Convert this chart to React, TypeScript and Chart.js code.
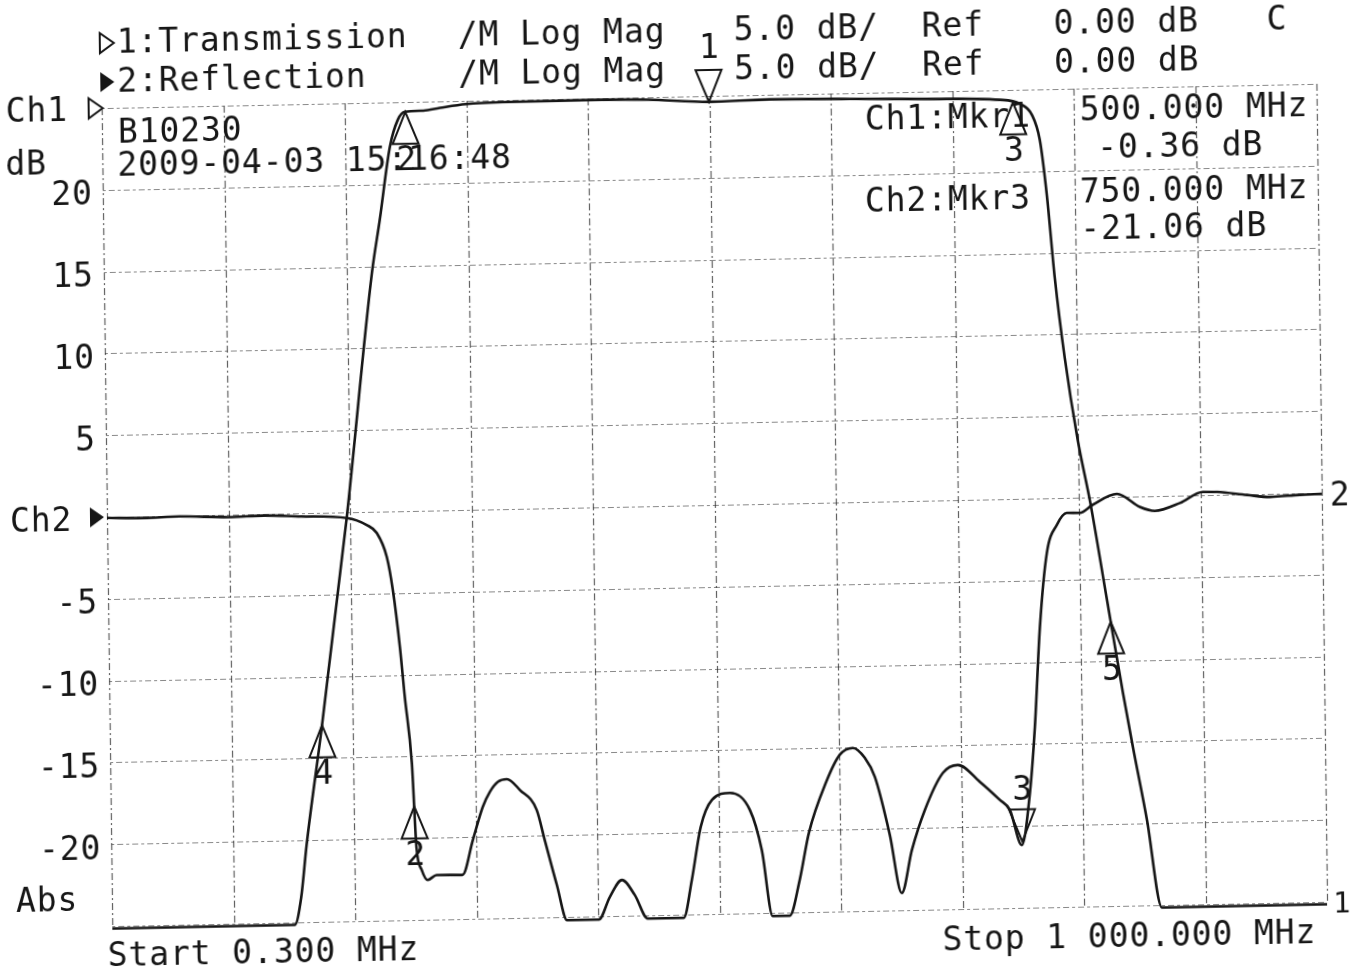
import React, { useEffect, useRef } from 'react';
import { Chart, registerables } from 'chart.js';
Chart.register(...registerables);

// ---- axis setup (from the printout) ----
const START_MHZ = 0.3;
const STOP_MHZ = 1000;
const CH2_MIN = -25;
const CH2_MAX = 25;
const CH1_MIN = -50;
const CH1_MAX = 0;
const Y_LABEL_VALUES = [20, 15, 10, 5, -5, -10, -15, -20];
const Y_LABEL_TEXT = ['20', '15', '10', '5', '-5', '-10', '-15', '-20'];

// ---- Ch1: Transmission (dB, ref 0 dB at top, 5 dB/div) ----
const ch1Freq = [0.3, 150.5, 156, 161, 174.8, 197.6, 220.9, 227.9, 237, 243.8, 249.7, 265, 278.6, 300, 330, 410, 450, 500, 550, 616, 680, 739.4, 755.8, 765.6, 771.8, 777, 782.6, 790, 799.8, 809.5, 822.2, 834.3, 841.9, 852.7, 864.1, 1000];
const ch1Db = [-50.15, -50.15, -48.5, -45.3, -38.1, -25.3, -10.4, -7.17, -2.72, -1.08, -0.6, -0.55, -0.4, -0.2, -0.12, -0.1, -0.15, -0.36, -0.28, -0.35, -0.45, -0.59, -0.86, -1.55, -3.09, -6.46, -11.48, -16.44, -21.47, -25.33, -31.3, -36.98, -40.3, -44.77, -50.15, -50.15];

// ---- Ch2: Reflection (dB, ref 0 dB at centre, 5 dB/div) ----
const ch2Freq = [0.3, 30, 60, 100, 130, 160, 197.6, 213.9, 222.1, 230.1, 234.7, 239.9, 243.4, 248.5, 251.4, 255.5, 260.3, 267.6, 289, 297.9, 306.4, 312.4, 319.1, 326.5, 337.1, 350.7, 357, 366.5, 374.6, 400.7, 410, 420.1, 430.5, 441, 470.6, 477.6, 485.5, 495, 509.9, 526.1, 535.5, 543.8, 557.8, 566.4, 574.4, 588.9, 600.6, 611.5, 621.2, 629.3, 641, 650.2, 659, 670.1, 685.3, 697.7, 715.7, 731.9, 740, 749.5, 756.7, 761.5, 766.7, 773.2, 781.7, 790, 800.7, 811.3, 831.4, 850.2, 862.5, 883.2, 902.1, 913.8, 938.4, 957.3, 981.9, 1000];
const ch2Db = [-0.05, -0.1, -0.05, -0.15, -0.1, -0.2, -0.35, -0.8, -1.3, -2.78, -4.8, -8.29, -11.35, -15.4, -20.54, -21.95, -22.57, -22.28, -22.3, -20.18, -18.17, -17.26, -16.66, -16.5, -17.18, -18.42, -20.27, -23.03, -25.2, -25.2, -23.83, -22.81, -23.74, -25.2, -25.2, -22.9, -19.66, -18.03, -17.62, -18.68, -21.15, -25.2, -25.2, -23.02, -20.16, -17.12, -15.43, -15.02, -15.64, -16.82, -20.38, -23.95, -21.33, -18.9, -16.66, -16.19, -17.25, -18.38, -19, -21.16, -17.99, -13.96, -7.85, -3.34, -1.64, -0.92, -0.93, -0.46, 0.18, -0.64, -0.9, -0.45, 0.2, 0.18, -0.04, -0.19, -0.1, -0.07];

// ---- markers ----
const ch1MarkerFreq = [500, 250, 750, 175, 825];
const ch1MarkerLabel = ['1', '2', '3', '4', '5'];
const ch1MarkerDown = [true, false, false, false, false];
const ch2MarkerFreq = [250, 750];
const ch2MarkerLabel = ['2', '3'];
const ch2MarkerDown = [false, true];

// ---- annotation texts ----
const headerRow1 = ['1:Transmission', '/M Log Mag', '5.0 dB/', 'Ref', '0.00 dB', 'C'];
const headerRow2 = ['2:Reflection', '/M Log Mag', '5.0 dB/', 'Ref', '0.00 dB'];
const headerCols = [123, 464, 740, 928, 1060, 1273];
const infoLines = ['B10230', '2009-04-03 15:16:48'];
const readoutLeft = ['Ch1:Mkr1', 'Ch2:Mkr3'];
const readoutRight = ['500.000 MHz', '-0.36 dB', '750.000 MHz', '-21.06 dB'];
const startText = 'Start 0.300 MHz';
const stopText = 'Stop 1 000.000 MHz';

const FONT = '"DejaVu Sans Mono", "Liberation Mono", monospace';
const INK = '#161616';

function interp(fs: number[], vs: number[], f: number) {
  for (let i = 0; i < fs.length - 1; i++) {
    if (f >= fs[i] && f <= fs[i + 1]) {
      const t = (f - fs[i]) / (fs[i + 1] - fs[i]);
      return vs[i] + t * (vs[i + 1] - vs[i]);
    }
  }
  return vs[vs.length - 1];
}

function txt(ctx: CanvasRenderingContext2D, s: string, x: number, y: number, align: CanvasTextAlign = 'left', size = 33) {
  ctx.font = `${size}px ${FONT}`;
  (ctx as any).letterSpacing = '0.9px';
  ctx.textAlign = align;
  ctx.textBaseline = 'middle';
  ctx.fillStyle = INK;
  ctx.fillText(s, x, y);
}

function tri(ctx: CanvasRenderingContext2D, x: number, y: number, down: boolean) {
  const w = 13, h = 32;
  ctx.beginPath();
  ctx.moveTo(x, y);
  if (down) {
    ctx.lineTo(x - w, y - h);
    ctx.lineTo(x + w, y - h);
  } else {
    ctx.lineTo(x - w, y + h);
    ctx.lineTo(x + w, y + h);
  }
  ctx.closePath();
  ctx.stroke();
}

function pointer(ctx: CanvasRenderingContext2D, tipX: number, y: number, filled: boolean) {
  ctx.beginPath();
  ctx.moveTo(tipX, y);
  ctx.lineTo(tipX - 14, y - 10);
  ctx.lineTo(tipX - 14, y + 10);
  ctx.closePath();
  if (filled) { ctx.fillStyle = INK; ctx.fill(); } else { ctx.stroke(); }
}

const printoutPlugin = {
  id: 'printout',
  beforeDatasetsDraw(chart: any) {
    const { ctx, chartArea: a, scales } = chart;
    const sx = scales.x, sy = scales.y;
    ctx.save();
    // vertical grid
    ctx.strokeStyle = 'rgba(30,30,30,0.7)';
    ctx.lineWidth = 1.2;
    ctx.setLineDash([7, 3, 2, 3]);
    for (let k = 0; k <= 10; k++) {
      const f = START_MHZ + (k * (STOP_MHZ - START_MHZ)) / 10;
      const px = Math.round(sx.getPixelForValue(f)) + 0.5;
      ctx.beginPath();
      ctx.moveTo(px, a.top);
      ctx.lineTo(px, a.bottom);
      ctx.stroke();
    }
    // horizontal grid
    ctx.strokeStyle = 'rgba(40,40,40,0.55)';
    ctx.lineWidth = 1.2;
    ctx.setLineDash([3, 3, 6, 3]);
    for (let v = CH2_MIN; v <= CH2_MAX; v += 5) {
      const py = Math.round(sy.getPixelForValue(v)) + 0.5;
      ctx.beginPath();
      ctx.moveTo(a.left, py);
      ctx.lineTo(a.right, py);
      ctx.stroke();
    }
    ctx.restore();
  },
  afterDatasetsDraw(chart: any) {
    const { ctx, chartArea: a, scales } = chart;
    const sx = scales.x, sy = scales.y, sy1 = scales.y1;
    ctx.save();
    ctx.strokeStyle = INK;
    ctx.lineWidth = 2;
    ctx.setLineDash([]);

    // markers on Ch1
    ch1MarkerFreq.forEach((f, i) => {
      const px = sx.getPixelForValue(f);
      const py = sy1.getPixelForValue(interp(ch1Freq, ch1Db, f));
      tri(ctx, px, py, ch1MarkerDown[i]);
      txt(ctx, ch1MarkerLabel[i], px + 1, ch1MarkerDown[i] ? py - 52 : py + 50, 'center');
    });
    // markers on Ch2
    ch2MarkerFreq.forEach((f, i) => {
      const px = sx.getPixelForValue(f);
      const py = sy.getPixelForValue(interp(ch2Freq, ch2Db, f));
      tri(ctx, px, py, ch2MarkerDown[i]);
      txt(ctx, ch2MarkerLabel[i], px + 1, ch2MarkerDown[i] ? py - 50 : py + 50, 'center');
    });

    // header rows
    pointer(ctx, 120, 31, false);
    pointer(ctx, 120, 70, true);
    headerRow1.forEach((s, i) => txt(ctx, s, headerCols[i], 32));
    headerRow2.forEach((s, i) => txt(ctx, s, headerCols[i], 71));

    // left side labels
    const topPx = sy1.getPixelForValue(CH1_MAX);
    txt(ctx, 'Ch1', 11, topPx + 3);
    ctx.strokeStyle = INK;
    pointer(ctx, a.left + 1, topPx, false);
    txt(ctx, 'dB', 10, 152);
    const zeroPx = sy.getPixelForValue(0);
    txt(ctx, 'Ch2', 10, zeroPx + 4);
    pointer(ctx, a.left - 3, zeroPx, true);
    Y_LABEL_VALUES.forEach((v, i) => txt(ctx, Y_LABEL_TEXT[i], 97, sy.getPixelForValue(v) + 6, 'right'));
    txt(ctx, 'Abs', 11, 889);

    // info
    txt(ctx, infoLines[0], 123, 122);
    txt(ctx, infoLines[1], 122, 155);

    // readout
    txt(ctx, readoutLeft[0], 870, 124);
    txt(ctx, readoutLeft[1], 869, 206);
    txt(ctx, readoutRight[0], 1085, 119);
    txt(ctx, readoutRight[1], 1102, 157);
    txt(ctx, readoutRight[2], 1084, 201);
    txt(ctx, readoutRight[3], 1084, 238);

    // bottom
    txt(ctx, startText, 102, 945);
    txt(ctx, stopText, 937, 946);
    // right trace labels
    txt(ctx, '2', a.right + 8, zeroPx + 4);
    txt(ctx, '1', a.right + 6, a.bottom + 3, 'left', 29);
    ctx.restore();
  },
};

export default function App() {
  const ref = useRef<HTMLCanvasElement>(null);
  useEffect(() => {
    const canvas = ref.current;
    if (!canvas) return;
    const chart = new Chart(canvas, {
      type: 'line',
      data: {
        datasets: [
          {
            label: 'Transmission',
            data: ch1Freq.map((f, i) => ({ x: f, y: ch1Db[i] })),
            yAxisID: 'y1',
            borderColor: INK,
            borderWidth: 2.6,
            pointRadius: 0,
            cubicInterpolationMode: 'monotone',
            clip: 8,
          },
          {
            label: 'Reflection',
            data: ch2Freq.map((f, i) => ({ x: f, y: ch2Db[i] })),
            yAxisID: 'y',
            borderColor: INK,
            borderWidth: 2.6,
            pointRadius: 0,
            cubicInterpolationMode: 'monotone',
            clip: 8,
          },
        ],
      },
      options: {
        animation: false,
        responsive: false,
        devicePixelRatio: 1,
        layout: { padding: { left: 107, top: 96, right: 36, bottom: 59 } },
        plugins: { legend: { display: false }, tooltip: { enabled: false }, title: { display: false } },
        scales: {
          x: { type: 'linear', min: START_MHZ, max: STOP_MHZ, display: false },
          y: { type: 'linear', min: CH2_MIN, max: CH2_MAX, display: false },
          y1: { type: 'linear', min: CH1_MIN, max: CH1_MAX, display: false },
        },
      },
      plugins: [printoutPlugin],
    } as any);
    return () => chart.destroy();
  }, []);
  return (
    <div style={{ position: 'fixed', left: 0, top: 0, width: 1358, height: 973, overflow: 'hidden', background: '#fff' }}>
      <div style={{ width: 1358, height: 973, transform: 'matrix(1, -0.02, 0.013, 1, 0, 0)', transformOrigin: '714px 505px' }}>
        <canvas ref={ref} width={1358} height={973} style={{ display: 'block' }} />
      </div>
    </div>
  );
}
